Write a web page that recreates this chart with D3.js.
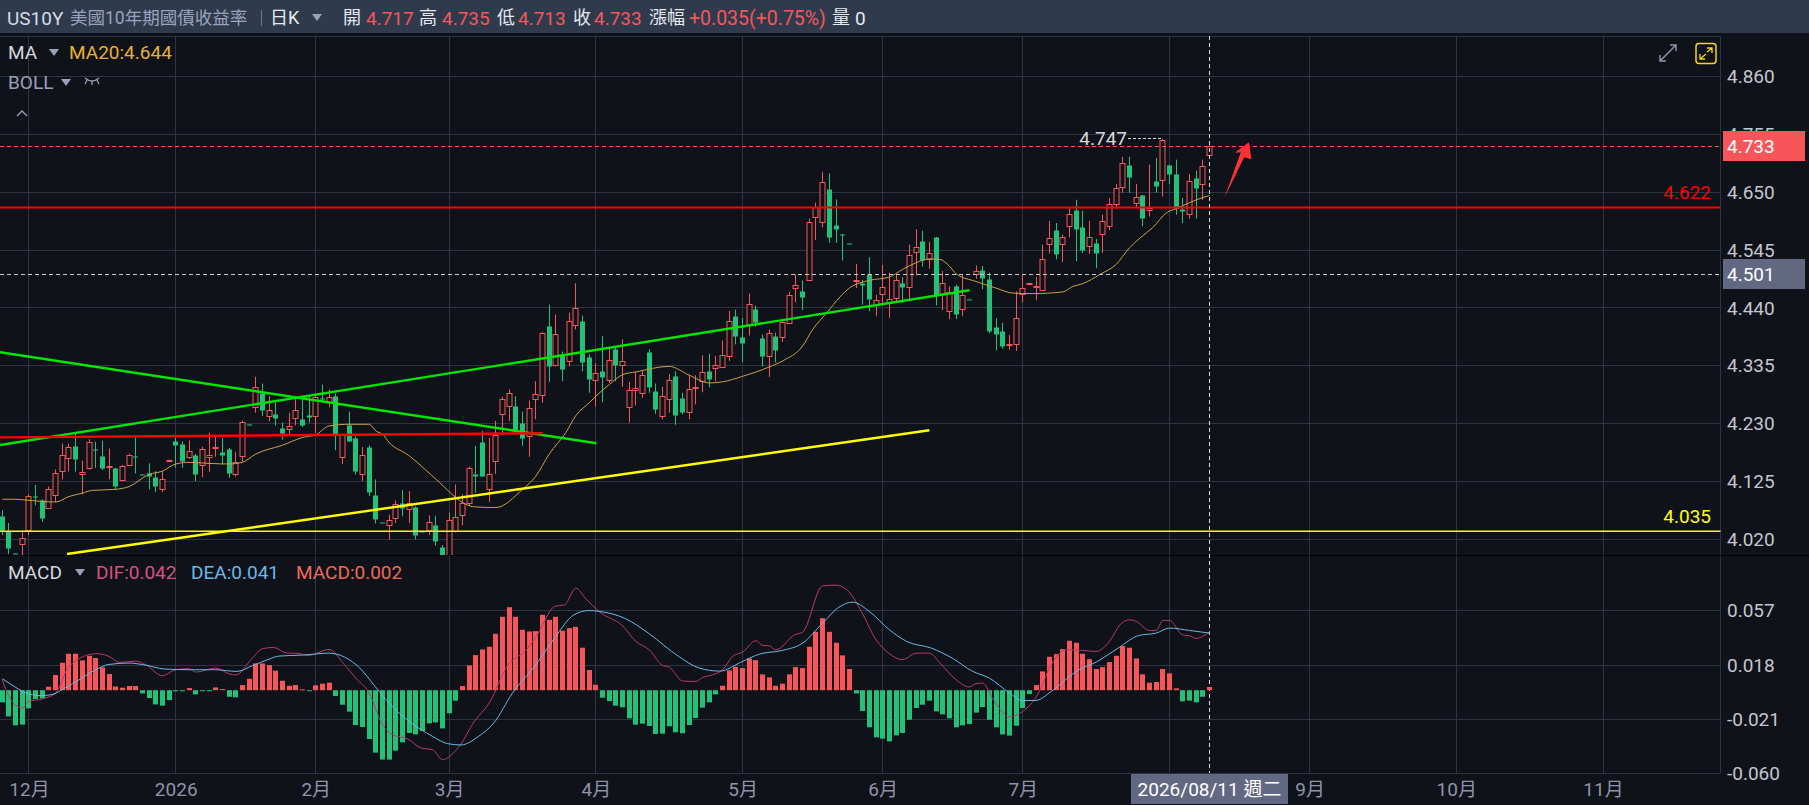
<!DOCTYPE html>
<html>
<head>
<meta charset="utf-8">
<title>US10Y</title>
<script src="https://cdn.jsdelivr.net/npm/d3@7/dist/d3.min.js"></script>
<style>
html, body { margin: 0; padding: 0; background: #0f1218; overflow: hidden; }
svg { display: block; }
text { font-family: Roboto, "Noto Sans CJK TC", sans-serif; }
</style>
</head>
<body>
<div id="chart"></div>
<script>
var opens = [
    4.063,4.035,3.995,4.011,4.037,4.099,4.091,4.076,4.102,4.145,
    4.168,4.189,4.139,4.149,4.185,4.172,4.152,4.149,4.128,4.156,
    4.171,4.139,4.140,4.133,4.111,4.164,4.198,4.194,4.170,4.174,
    4.156,4.170,4.187,4.178,4.184,4.139,4.173,4.229,4.260,4.286,
    4.243,4.248,4.222,4.219,4.240,4.238,4.245,4.244,4.277,4.270,
    4.281,4.170,4.227,4.205,4.139,4.187,4.100,4.051,4.047,4.059,
    4.086,4.077,4.079,4.036,4.036,4.047,4.006,3.980,4.035,4.065,
    4.086,4.138,4.196,4.110,4.161,4.248,4.262,4.263,4.231,4.208,
    4.275,4.282,4.408,4.337,4.354,4.344,4.409,4.417,4.351,4.309,
    4.325,4.309,4.365,4.336,4.262,4.292,4.286,4.361,4.290,4.244,
    4.275,4.316,4.277,4.252,4.295,4.308,4.325,4.331,4.334,4.353,
    4.426,4.388,4.411,4.439,4.386,4.353,4.390,4.387,4.414,4.475,
    4.470,4.491,4.606,4.595,4.656,4.591,4.574,4.558,4.489,4.485,
    4.501,4.446,4.465,4.449,4.458,4.485,4.478,4.541,4.562,4.529,
    4.569,4.465,4.434,4.479,4.438,4.457,4.502,4.509,4.493,4.405,
    4.399,4.373,4.374,4.466,4.485,4.478,4.473,4.557,4.582,4.557,
    4.589,4.618,4.586,4.552,4.558,4.574,4.588,4.628,4.659,4.700,
    4.631,4.645,4.618,4.671,4.673,4.700,4.683,4.620,4.610,4.675,
    4.665,4.717
];
var highs = [
    4.073,4.050,3.995,4.037,4.102,4.119,4.093,4.116,4.147,4.194,
    4.194,4.213,4.163,4.202,4.197,4.199,4.185,4.150,4.155,4.176,
    4.205,4.139,4.158,4.144,4.144,4.165,4.205,4.198,4.200,4.175,
    4.188,4.214,4.207,4.204,4.186,4.179,4.236,4.229,4.315,4.303,
    4.280,4.268,4.232,4.250,4.277,4.275,4.280,4.283,4.301,4.292,
    4.285,4.210,4.252,4.207,4.188,4.191,4.129,4.051,4.065,4.091,
    4.110,4.108,4.080,4.036,4.064,4.063,4.010,4.069,4.120,4.102,
    4.152,4.190,4.217,4.204,4.235,4.279,4.292,4.280,4.252,4.272,
    4.307,4.396,4.446,4.428,4.361,4.431,4.485,4.426,4.356,4.340,
    4.389,4.369,4.368,4.383,4.306,4.324,4.325,4.365,4.303,4.297,
    4.320,4.325,4.286,4.319,4.318,4.354,4.357,4.353,4.381,4.435,
    4.437,4.422,4.466,4.444,4.392,4.401,4.395,4.419,4.469,4.501,
    4.490,4.602,4.631,4.687,4.684,4.637,4.574,4.558,4.520,4.491,
    4.532,4.464,4.518,4.504,4.501,4.496,4.555,4.583,4.580,4.560,
    4.569,4.507,4.479,4.482,4.500,4.457,4.517,4.516,4.504,4.421,
    4.413,4.391,4.470,4.501,4.486,4.496,4.555,4.598,4.594,4.573,
    4.621,4.636,4.616,4.598,4.565,4.609,4.639,4.665,4.714,4.714,
    4.665,4.645,4.700,4.712,4.747,4.700,4.709,4.640,4.683,4.689,
    4.709,4.735
];
var lows = [
    4.028,3.994,3.994,3.985,4.028,4.082,4.052,4.076,4.088,4.129,
    4.143,4.143,4.102,4.147,4.150,4.146,4.129,4.111,4.127,4.155,
    4.140,4.138,4.111,4.106,4.106,4.164,4.150,4.150,4.166,4.126,
    4.133,4.143,4.170,4.156,4.132,4.134,4.161,4.228,4.250,4.244,
    4.234,4.227,4.201,4.210,4.227,4.224,4.232,4.213,4.268,4.260,
    4.182,4.157,4.197,4.138,4.126,4.099,4.049,4.050,4.020,4.050,
    4.062,4.050,4.020,4.035,4.028,4.009,3.975,3.970,4.033,4.046,
    4.081,4.105,4.134,4.088,4.139,4.214,4.235,4.215,4.190,4.170,
    4.238,4.268,4.306,4.334,4.307,4.334,4.401,4.325,4.286,4.261,
    4.269,4.304,4.307,4.297,4.232,4.263,4.277,4.286,4.248,4.238,
    4.250,4.228,4.247,4.238,4.265,4.287,4.296,4.307,4.334,4.344,
    4.374,4.342,4.390,4.406,4.334,4.315,4.341,4.378,4.413,4.450,
    4.436,4.490,4.563,4.586,4.558,4.558,4.526,4.557,4.476,4.446,
    4.434,4.425,4.446,4.422,4.453,4.449,4.456,4.499,4.515,4.511,
    4.445,4.436,4.420,4.420,4.425,4.456,4.493,4.474,4.394,4.363,
    4.366,4.364,4.362,4.450,4.485,4.454,4.472,4.539,4.528,4.523,
    4.568,4.525,4.540,4.538,4.512,4.540,4.581,4.620,4.649,4.649,
    4.622,4.588,4.606,4.649,4.642,4.665,4.609,4.594,4.602,4.602,
    4.636,4.713
];
var closes = [
    4.038,4.005,3.994,4.022,4.098,4.098,4.059,4.111,4.141,4.174,
    4.188,4.166,4.143,4.197,4.184,4.150,4.153,4.117,4.153,4.174,
    4.170,4.138,4.135,4.117,4.130,4.165,4.190,4.164,4.181,4.139,
    4.185,4.173,4.188,4.173,4.140,4.161,4.234,4.228,4.296,4.255,
    4.254,4.240,4.213,4.225,4.254,4.228,4.242,4.279,4.275,4.279,
    4.211,4.209,4.198,4.146,4.174,4.106,4.057,4.050,4.056,4.084,
    4.077,4.087,4.028,4.035,4.051,4.018,3.990,4.055,4.060,4.086,
    4.149,4.134,4.135,4.138,4.209,4.275,4.286,4.219,4.204,4.259,
    4.284,4.394,4.336,4.393,4.328,4.417,4.440,4.343,4.311,4.322,
    4.314,4.346,4.336,4.343,4.292,4.295,4.319,4.298,4.257,4.280,
    4.310,4.246,4.251,4.293,4.296,4.324,4.310,4.336,4.355,4.416,
    4.390,4.378,4.447,4.415,4.354,4.395,4.365,4.414,4.464,4.481,
    4.459,4.596,4.624,4.668,4.569,4.584,4.572,4.557,4.491,4.481,
    4.456,4.455,4.478,4.456,4.491,4.478,4.536,4.550,4.527,4.539,
    4.464,4.485,4.469,4.428,4.464,4.456,4.507,4.494,4.399,4.392,
    4.372,4.375,4.422,4.476,4.486,4.480,4.529,4.567,4.539,4.569,
    4.610,4.584,4.544,4.569,4.540,4.598,4.628,4.657,4.703,4.678,
    4.641,4.604,4.622,4.662,4.745,4.683,4.621,4.617,4.670,4.657,
    4.697,4.733
];

// MA20, read at the candles where the curve bends
var maDays = [0,2,4,8,10,12,13.4,17,19,22,24,26,28,31,34,36,38,42,45,47,49,52,55,56,57,58,61,63.4,65.6,68,69,71,74,78,80,82,84.5,86,88,89,91,93,95,100,103,106,108,111,115,117,120,121.5,123.6,125.6,127,130,133,135,137,139,140.6,142,143,146,149,151.5,154.5,159,160.5,162,164.6,167,169,170.6,172.5,174.6,176,179,181];
var maValues = [4.093,4.093,4.091,4.088,4.098,4.104,4.109,4.111,4.116,4.138,4.144,4.157,4.160,4.158,4.157,4.160,4.175,4.191,4.205,4.210,4.226,4.229,4.229,4.217,4.211,4.196,4.172,4.147,4.123,4.096,4.087,4.079,4.078,4.111,4.135,4.175,4.214,4.245,4.268,4.280,4.301,4.319,4.324,4.334,4.318,4.304,4.306,4.316,4.333,4.344,4.371,4.401,4.431,4.460,4.476,4.490,4.496,4.510,4.522,4.529,4.528,4.516,4.502,4.488,4.476,4.467,4.466,4.469,4.479,4.484,4.501,4.519,4.549,4.567,4.586,4.613,4.620,4.636,4.644];

var macdValues = [
    -0.0087,-0.0188,-0.0252,-0.0247,-0.0130,-0.0063,-0.0059,0.0025,0.0109,0.0197,
    0.0262,0.0262,0.0214,0.0247,0.0231,0.0164,0.0116,0.0027,0.0018,0.0030,
    0.0030,-0.0023,-0.0056,-0.0102,-0.0111,-0.0071,-0.0008,-0.0008,0.0015,-0.0030,
    -0.0002,-0.0002,0.0020,0.0008,-0.0047,-0.0051,0.0037,0.0082,0.0192,0.0192,
    0.0180,0.0140,0.0068,0.0032,0.0037,0.0006,-0.0006,0.0035,0.0047,0.0054,
    -0.0042,-0.0104,-0.0154,-0.0250,-0.0264,-0.0350,-0.0448,-0.0498,-0.0498,-0.0434,
    -0.0374,-0.0307,-0.0317,-0.0293,-0.0238,-0.0231,-0.0274,-0.0166,-0.0075,0.0030,
    0.0178,0.0252,0.0293,0.0312,0.0405,0.0527,0.0596,0.0527,0.0434,0.0422,
    0.0424,0.0541,0.0505,0.0527,0.0427,0.0446,0.0455,0.0305,0.0145,0.0039,
    -0.0054,-0.0078,-0.0111,-0.0123,-0.0202,-0.0247,-0.0240,-0.0257,-0.0314,-0.0312,
    -0.0259,-0.0302,-0.0309,-0.0250,-0.0200,-0.0125,-0.0087,-0.0030,0.0032,0.0142,
    0.0168,0.0159,0.0228,0.0216,0.0114,0.0092,0.0032,0.0047,0.0114,0.0166,
    0.0159,0.0312,0.0419,0.0517,0.0419,0.0341,0.0250,0.0152,-0.0023,-0.0149,
    -0.0266,-0.0338,-0.0348,-0.0367,-0.0324,-0.0307,-0.0212,-0.0128,-0.0104,-0.0075,
    -0.0152,-0.0173,-0.0202,-0.0266,-0.0252,-0.0243,-0.0161,-0.0121,-0.0212,-0.0266,
    -0.0317,-0.0326,-0.0255,-0.0128,-0.0027,0.0037,0.0135,0.0240,0.0259,0.0295,
    0.0355,0.0341,0.0262,0.0223,0.0152,0.0166,0.0202,0.0247,0.0317,0.0305,
    0.0228,0.0114,0.0054,0.0059,0.0152,0.0121,0.0013,-0.0080,-0.0075,-0.0087,
    -0.0047,0.0023
];

var difDays = [0,1,3,4,6,8,10,14,16,17.5,20,21.5,24,26,28,29,32,34,35,37.5,39,40.7,42.7,44,46,49,51.3,53,55,57,58.5,60.8,62.8,64.5,66,68.5,70.8,73,75.7,78.8,80.5,82.8,84.3,86,87.4,89.6,93,95,97,99,100,102,104,105,106,108,109.5,111,113,114,115,116,118.8,120,123,125,127,128.8,131,133,135,137,139,140.6,143,145,146,147,148.6,151,153,155.5,157,159.5,162,164,166,167.6,169,170,172,173,174,175,177,178,179,180,181];
var difValues = [0.0075,-0.0044,-0.0128,-0.0080,-0.0063,-0.0020,0.0171,0.0262,0.0243,0.0200,0.0209,0.0183,0.0104,0.0147,0.0154,0.0130,0.0159,0.0118,0.0109,0.0231,0.0298,0.0307,0.0266,0.0266,0.0250,0.0293,0.0183,0.0087,-0.0020,-0.0247,-0.0319,-0.0350,-0.0415,-0.0427,-0.0498,-0.0403,-0.0223,-0.0092,0.0171,0.0302,0.0422,0.0601,0.0613,0.0733,0.0661,0.0560,0.0462,0.0350,0.0290,0.0178,0.0166,0.0066,0.0063,0.0092,0.0104,0.0147,0.0243,0.0274,0.0355,0.0321,0.0319,0.0290,0.0398,0.0417,0.0749,0.0754,0.0704,0.0565,0.0362,0.0262,0.0219,0.0266,0.0266,0.0195,0.0075,0.0023,0.0047,0.0051,-0.0068,-0.0192,-0.0152,-0.0008,0.0159,0.0290,0.0286,0.0278,0.0350,0.0470,0.0505,0.0494,0.0429,0.0429,0.0501,0.0501,0.0396,0.0391,0.0372,0.0386,0.0420];

var deaDays = [0,1.4,3.4,5.7,7.4,9.4,11.7,14,16,19,21.5,24.3,28.3,31.8,35.2,37.5,39.8,41.5,45,49,51.3,53.6,55.9,58.2,61,64.5,66.8,68.8,71.4,73.7,76.5,80,82.8,85.7,88,89.6,93.3,97,101.4,104.5,107.6,110.7,113.5,117,120,123,125.6,127.5,130,133,135.6,139.3,142.4,145.5,148,151,153,155,157.3,161,164.2,167.3,170.4,173,175,178,181];
var deaValues = [0.0082,0.0039,-0.0016,-0.0039,-0.0032,0.0016,0.0080,0.0147,0.0185,0.0195,0.0180,0.0152,0.0147,0.0147,0.0135,0.0176,0.0219,0.0245,0.0252,0.0266,0.0238,0.0159,0.0027,-0.0104,-0.0223,-0.0331,-0.0384,-0.0393,-0.0331,-0.0235,-0.0020,0.0183,0.0374,0.0541,0.0572,0.0565,0.0517,0.0405,0.0243,0.0159,0.0137,0.0200,0.0259,0.0286,0.0338,0.0482,0.0601,0.0632,0.0565,0.0434,0.0350,0.0302,0.0231,0.0135,0.0087,-0.0020,-0.0075,-0.0073,-0.0008,0.0135,0.0207,0.0302,0.0393,0.0410,0.0446,0.0429,0.0410];

var priceTicks = [4.860, 4.755, 4.650, 4.545, 4.440, 4.335, 4.230, 4.125, 4.020];
var macdTicks = [0.057, 0.018, -0.021, -0.060];
var monthDays = [4, 26, 47, 67, 89, 111, 132, 153, 175, 196, 218, 240];
// the August label sits under the crosshair date tag in the picture, so it stays empty
var monthLabels = ["12月", "2026", "2月", "3月", "4月", "5月", "6月", "7月", "", "9月", "10月", "11月"];

// drawn trend lines: [day, price, day, price, colour, width]
var trendLines = [
    [-0.34, 4.1914, 145, 4.472, "#00e600", 2.4],
    [-0.34, 4.3597, 89.1, 4.1945, "#00e600", 2.4],
    [-0.34, 4.2053, 81, 4.2126, "#ff0000", 2.4],
    [9.7, 3.9936, 139, 4.2181, "#ffff00", 2.4]
];
var arrowDays = [183.2, 185.7, 184.8, 186.9, 187.3, 186.2];
var arrowPrices = [4.6391, 4.7224, 4.7217, 4.7405, 4.7097, 4.7134];

(function () {
    "use strict";
    var width = 1809, height = 805, plotRight = 1720.5, fontSize = 19,
        bg = "#0f1218", grid = "#2c3543", up = "#f6565a", down = "#22c27a",
        svg, x, y, yMacd, plot, line, candles, macdPlot, headerItems, last = closes.length - 1;

    svg = d3.select("#chart").append("svg")
        .attr("width", width)
        .attr("height", height);

    svg.append("rect").attr("width", width).attr("height", height).attr("fill", bg);

    x = d3.scaleLinear().domain([0, 181]).range([2.3, 1209.5]);
    y = d3.scaleLinear().domain([4.860, 4.020]).range([76.4, 539.5]);
    yMacd = d3.scaleLinear().domain([0.057, -0.060]).range([610.8, 773.8]);

    function px(i) {
        return Math.floor(x(i)) + 0.5;
    }
    function py(v) {
        return Math.floor(y(v)) + 0.5;
    }

    svg.append("clipPath").attr("id", "mainClip").append("rect")
        .attr("x", 0).attr("y", 36).attr("width", plotRight).attr("height", 519);

    // grid
    svg.append("g").selectAll("line").data(monthDays).enter().append("line")
        .attr("x1", px).attr("x2", px).attr("y1", 36).attr("y2", 773)
        .attr("stroke", grid);
    svg.append("g").selectAll("line").data(priceTicks).enter().append("line")
        .attr("x1", 0).attr("x2", plotRight).attr("y1", py).attr("y2", py)
        .attr("stroke", grid);
    svg.append("g").selectAll("line").data(macdTicks).enter().append("line")
        .attr("x1", 0).attr("x2", plotRight)
        .attr("y1", function (d) { return Math.floor(yMacd(d)) + 0.5; })
        .attr("y2", function (d) { return Math.floor(yMacd(d)) + 0.5; })
        .attr("stroke", grid);
    svg.append("line").attr("x1", plotRight).attr("x2", plotRight).attr("y1", 36).attr("y2", 773).attr("stroke", grid);
    svg.append("line").attr("x1", 0).attr("x2", plotRight).attr("y1", 36.5).attr("y2", 36.5).attr("stroke", grid);
    svg.append("line").attr("x1", 0).attr("x2", width).attr("y1", 555.5).attr("y2", 555.5).attr("stroke", "#000");

    // axes
    function styleAxis(g, color) {
        g.select(".domain").remove();
        g.selectAll(".tick line").remove();
        g.selectAll("text").attr("fill", color).attr("font-size", fontSize);
    }
    svg.append("g")
        .attr("transform", "translate(1727,0)")
        .call(d3.axisRight(y).tickValues(priceTicks).tickSize(0).tickPadding(0).tickFormat(d3.format(".3f")))
        .call(styleAxis, "#c3c6d0");
    svg.append("g")
        .attr("transform", "translate(1727,0)")
        .call(d3.axisRight(yMacd).tickValues(macdTicks).tickSize(0).tickPadding(0).tickFormat(function (d) { return d.toFixed(3); }))
        .call(styleAxis, "#c3c6d0");
    svg.append("g")
        .attr("transform", "translate(0,773)")
        .call(d3.axisBottom(x).tickValues(monthDays).tickSize(0).tickPadding(10).tickFormat(function (d, i) { return monthLabels[i]; }))
        .call(styleAxis, "#8f93ab");

    // candles
    plot = svg.append("g").attr("clip-path", "url(#mainClip)");
    candles = plot.selectAll("g.candle").data(opens).enter().append("g").attr("class", "candle");
    candles.append("line")
        .attr("x1", function (d, i) { return px(i); })
        .attr("x2", function (d, i) { return px(i); })
        .attr("y1", function (d, i) { return y(highs[i]); })
        .attr("y2", function (d, i) { return y(lows[i]); })
        .attr("stroke", function (d, i) { return closes[i] >= opens[i] ? up : down; });
    candles.append("rect")
        .attr("x", function (d, i) { return px(i) - 2.5; })
        .attr("width", 5)
        .attr("y", function (d, i) { return Math.round(y(Math.max(opens[i], closes[i]))) + 0.5; })
        .attr("height", function (d, i) { return Math.max(1, Math.round(Math.abs(y(opens[i]) - y(closes[i])))); })
        .attr("fill", function (d, i) { return closes[i] >= opens[i] ? bg : down; })
        .attr("stroke", function (d, i) { return closes[i] >= opens[i] ? up : "none"; });

    line = d3.line().curve(d3.curveMonotoneX);

    // MA20
    plot.append("path")
        .attr("d", line(maDays.map(function (d, i) { return [x(d), y(maValues[i])]; })))
        .attr("fill", "none")
        .attr("stroke", "#c9a24a")
        .attr("stroke-width", 1);

    // trend lines and levels
    plot.selectAll("line.trend").data(trendLines).enter().append("line")
        .attr("class", "trend")
        .attr("x1", function (d) { return x(d[0]); })
        .attr("y1", function (d) { return y(d[1]); })
        .attr("x2", function (d) { return x(d[2]); })
        .attr("y2", function (d) { return y(d[3]); })
        .attr("stroke", function (d) { return d[4]; })
        .attr("stroke-width", function (d) { return d[5]; });
    svg.append("line").attr("x1", 0).attr("x2", plotRight).attr("y1", y(4.622)).attr("y2", y(4.622))
        .attr("stroke", "#ff0000").attr("stroke-width", 2);
    svg.append("line").attr("x1", 0).attr("x2", plotRight).attr("y1", y(4.035)).attr("y2", y(4.035))
        .attr("stroke", "#ffff00").attr("stroke-width", 1.4);
    svg.append("line").attr("x1", 0).attr("x2", plotRight).attr("y1", py(4.501)).attr("y2", py(4.501))
        .attr("stroke", "#c9c9c9").attr("stroke-dasharray", "4,3");
    svg.append("line").attr("x1", 0).attr("x2", plotRight).attr("y1", py(4.733)).attr("y2", py(4.733))
        .attr("stroke", up).attr("stroke-dasharray", "4,3");
    svg.append("line").attr("x1", px(last)).attr("x2", px(last)).attr("y1", 36).attr("y2", 773)
        .attr("stroke", "#d8d8d8").attr("stroke-dasharray", "4,3");

    // arrow
    svg.append("polygon")
        .attr("points", arrowDays.map(function (d, i) { return x(d) + "," + y(arrowPrices[i]); }).join(" "))
        .attr("fill", "#ff3333");

    // level and high labels
    svg.append("text").attr("x", 1711).attr("y", y(4.622) - 15).attr("text-anchor", "end").attr("dy", "0.35em")
        .attr("font-size", fontSize).attr("fill", "#ff0000").text("4.622");
    svg.append("text").attr("x", 1711).attr("y", y(4.035) - 15).attr("text-anchor", "end").attr("dy", "0.35em")
        .attr("font-size", fontSize).attr("fill", "#ffff00").text("4.035");
    svg.append("text").attr("x", 1127).attr("y", y(4.747)).attr("text-anchor", "end").attr("dy", "0.35em")
        .attr("font-size", fontSize).attr("fill", "#d8dade").text("4.747");
    svg.append("line").attr("x1", 1128).attr("x2", px(174)).attr("y1", py(4.747)).attr("y2", py(4.747))
        .attr("stroke", "#d8dade").attr("stroke-dasharray", "3,2");

    // MACD pane
    macdPlot = svg.append("g");
    macdPlot.selectAll("rect").data(macdValues).enter().append("rect")
        .attr("x", function (d, i) { return px(i) - 2.5; })
        .attr("width", 5)
        .attr("y", function (d) { return Math.min(yMacd(d), yMacd(0)); })
        .attr("height", function (d) { return Math.max(1, Math.abs(yMacd(d) - yMacd(0))); })
        .attr("fill", function (d) { return d >= 0 ? up : down; });
    macdPlot.append("path")
        .attr("d", line(difDays.map(function (d, i) { return [x(d), yMacd(difValues[i])]; })))
        .attr("fill", "none").attr("stroke", "#b8396c").attr("stroke-width", 1);
    macdPlot.append("path")
        .attr("d", line(deaDays.map(function (d, i) { return [x(d), yMacd(deaValues[i])]; })))
        .attr("fill", "none").attr("stroke", "#6db8e6").attr("stroke-width", 1);

    // price tags
    function tag(x0, y0, w, h, fill, label, tx, anchor) {
        svg.append("rect").attr("x", x0).attr("y", y0).attr("width", w).attr("height", h).attr("fill", fill);
        svg.append("text").attr("x", tx).attr("y", y0 + h / 2).attr("dy", "0.35em")
            .attr("text-anchor", anchor).attr("font-size", fontSize).attr("fill", "#fff").text(label);
    }
    tag(1723, 131, 82, 30, up, "4.733", 1727, "start");
    tag(1723, 259, 82, 30, "#636882", "4.501", 1727, "start");
    tag(1131, 774, 157, 30, "#636882", "2026/08/11 週二", 1209.5, "middle");

    // header bar
    svg.append("rect").attr("width", width).attr("height", 33).attr("fill", "#2f3b4c");
    headerItems = [
        ["US10Y", 7, "#d5dce6", 19], ["美國10年期國債收益率", 70, "#9aa2bd", 17.5], ["日K", 270, "#e6e9ee", 18],
        ["開", 343, "#e6e9ee", 18], ["4.717", 366, "#f6565a", 19], ["高", 419, "#e6e9ee", 18], ["4.735", 442, "#f6565a", 19],
        ["低", 497, "#e6e9ee", 18], ["4.713", 518, "#f6565a", 19], ["收", 573, "#e6e9ee", 18], ["4.733", 594, "#f6565a", 19],
        ["漲幅", 649, "#e6e9ee", 18], ["+0.035(+0.75%)", 689, "#f6565a", 19.5], ["量", 832, "#e6e9ee", 18], ["0", 855, "#e6e9ee", 19]
    ];
    svg.append("g").selectAll("text").data(headerItems).enter().append("text")
        .attr("x", function (d) { return d[1]; })
        .attr("y", 18)
        .attr("dy", "0.35em")
        .attr("font-size", function (d) { return d[3]; })
        .attr("fill", function (d) { return d[2]; })
        .text(function (d) { return d[0]; });
    svg.append("line").attr("x1", 261.5).attr("x2", 261.5).attr("y1", 10).attr("y2", 26).attr("stroke", "#6d7688");

    function triangle(cx, cy) {
        svg.append("path")
            .attr("d", "M" + (cx - 5) + "," + (cy - 3) + "h10l-5,7z")
            .attr("fill", "#9aa0b8");
    }
    triangle(317, 17);

    // indicator legends
    function legend(label, lx, ly, color) {
        svg.append("text").attr("x", lx).attr("y", ly).attr("dy", "0.35em")
            .attr("font-size", fontSize).attr("fill", color).text(label);
    }
    legend("MA", 8, 52, "#d5d8de");
    triangle(54, 52);
    legend("MA20:4.644", 69, 52, "#e8b02f");
    legend("BOLL", 8, 82, "#9aa0b8");
    triangle(66, 82);
    svg.append("path")
        .attr("d", "M85,78q7,6 14,0M92,81v4M87,80l-2,4M97,80l2,4")
        .attr("fill", "none").attr("stroke", "#9aa0b8").attr("stroke-width", 1.3);
    svg.append("path")
        .attr("d", "M17,116l5,-5l5,5")
        .attr("fill", "none").attr("stroke", "#9aa0b8").attr("stroke-width", 1.4);
    legend("MACD", 8, 572, "#d5d8de");
    triangle(80, 572);
    legend("DIF:0.042", 96, 572, "#d9517f");
    legend("DEA:0.041", 191, 572, "#6db8e8");
    legend("MACD:0.002", 296, 572, "#f0695a");

    // corner icons
    svg.append("path")
        .attr("d", "M1660,61L1676,45M1670,45h6v6M1660,55v6h6")
        .attr("fill", "none").attr("stroke", "#8f93ab").attr("stroke-width", 1.5);
    svg.append("rect").attr("x", 1696).attr("y", 43.5).attr("width", 20).attr("height", 20).attr("rx", 3)
        .attr("fill", "none").attr("stroke", "#f5d90a").attr("stroke-width", 1.5);
    svg.append("path")
        .attr("d", "M1700,59L1706,54M1700,54v5h5M1712,48L1707,52M1707,48h5v5")
        .attr("fill", "none").attr("stroke", "#f5d90a").attr("stroke-width", 1.3);
}());
</script>
</body>
</html>
